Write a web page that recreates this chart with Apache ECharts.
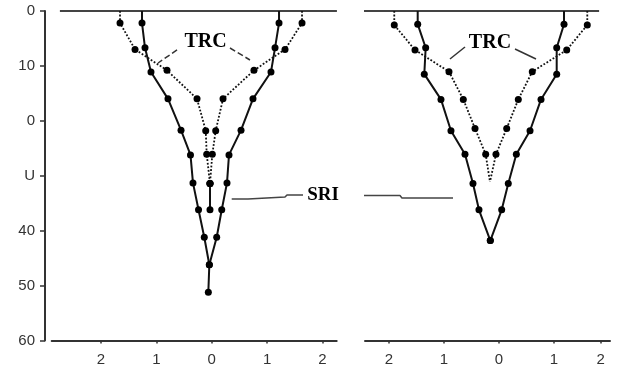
<!DOCTYPE html>
<html>
<head>
<meta charset="utf-8">
<script src="https://cdn.jsdelivr.net/npm/echarts@6/dist/echarts.min.js"></script>
<style>html,body{margin:0;padding:0;background:#fff}#c{width:644px;height:374px}</style>
</head>
<body>
<div id="c"></div>
<script>
// ---- tick labels ----
const yTickValues = [0, 10, 20, 30, 40, 50, 60];
const yTickLabels = ["0", "10", "0", "U", "40", "50", "60"];
const xTickValuesA = [-2, -1, 0, 1, 2];
const xTickValuesB = [-2, -1, 0, 1, 1.85];
const xTickLabels = ["2", "1", "0", "1", "2"];

// ---- left panel (A) ----
const depthSriLeftA = [0, 2.2, 6.7, 11.1, 16, 21.7, 26.2, 31.3, 36.2, 41.2, 46.2, 51.2];
const sriLeftA = [-1.258, -1.258, -1.204, -1.096, -0.789, -0.554, -0.383, -0.338, -0.238, -0.134, -0.043, -0.061];
const depthSriRightA = [0, 2.2, 6.7, 11.1, 16, 21.7, 26.2, 31.3, 36.2, 41.2, 46.2];
const sriRightA = [1.215, 1.215, 1.143, 1.070, 0.745, 0.529, 0.312, 0.276, 0.181, 0.090, -0.043];
const depthTrcA = [0, 2.2, 7.0, 10.8, 16, 21.8, 26.1, 31.4];
const trcLeftA = [-1.655, -1.655, -1.384, -0.807, -0.265, -0.108, -0.090, -0.031];
const trcRightA = [1.630, 1.630, 1.323, 0.763, 0.204, 0.072, 0.011, -0.031];
const depthCenterA = [31.4, 36.2];
const centerA = [-0.031, -0.031];

// ---- right panel (B) ----
const depthSriB = [0, 2.4, 6.7, 11.5, 16.1, 21.8, 26.1, 31.4, 36.2, 41.8];
const sriLeftB = [-1.478, -1.478, -1.333, -1.358, -1.055, -0.873, -0.618, -0.473, -0.364, -0.158];
const sriRightB = [1.182, 1.182, 1.049, 1.049, 0.764, 0.564, 0.315, 0.169, 0.049, -0.158];
const depthTrcB = [0, 2.55, 7.1, 11.05, 16.1, 21.4, 26.1, 31.1];
const trcLeftB = [-1.904, -1.904, -1.527, -0.909, -0.649, -0.436, -0.242, -0.164];
const trcRightB = [1.605, 1.605, 1.231, 0.605, 0.351, 0.140, -0.055, -0.164];

// ---- surface lines & annotations (data units) ----
const surfaceA = [[-2.74, 0], [2.26, 0]];
const surfaceB = [[-2.49, 0], [1.82, 0]];
const trcTextA = [-0.112, 5.64];
const trcLeaderA1 = [[-0.626, 7.10], [-0.969, 9.47]];
const trcLeaderA2 = [[0.330, 6.74], [0.691, 8.92]];
const trcTextB = [-0.164, 5.83];
const trcLeaderB1 = [[-0.618, 6.56], [-0.891, 8.74]];
const trcLeaderB2 = [[0.291, 6.92], [0.673, 8.74]];
const sriText = [2.009, 33.5];
const sriLeaderA = [[0.361, 34.23], [0.655, 34.23], [0.691, 33.87], [1.323, 33.87], [1.359, 33.5], [1.648, 33.5]];
const sriLeaderB = [[-2.745, 33.6], [-1.8, 33.6], [-1.764, 34.05], [-0.836, 34.05]];

function pts(xs, ds, noMark) {
  return xs.map((x, i) => ({ value: [x, ds[i]], symbol: (ds[i] === 0 || (noMark || []).includes(i)) ? 'none' : 'circle' }));
}
function profile(name, xs, ds, grid, dotted, noMark) {
  return {
    name: name, type: 'line', xAxisIndex: grid, yAxisIndex: grid,
    data: pts(xs, ds, noMark), showSymbol: true, symbolSize: 7, clip: false,
    itemStyle: { color: '#000' },
    lineStyle: { color: '#111', width: dotted ? 1.8 : 2, type: dotted ? 'dotted' : 'solid' },
    animation: false, z: 3
  };
}
function guide(data, grid, color, width, type) {
  return {
    type: 'line', xAxisIndex: grid, yAxisIndex: grid, data: data, symbol: 'none', clip: false,
    lineStyle: { color: color, width: width, type: type || 'solid' }, animation: false, silent: true, z: 2
  };
}
function xAxis(grid, min, max, ticks) {
  return {
    type: 'value', gridIndex: grid, min: min, max: max, splitLine: { show: false },
    axisLine: { show: true, onZero: false, lineStyle: { color: '#333', width: 2 } },
    axisTick: { show: true, length: 3, customValues: ticks, lineStyle: { color: '#333', width: 1.5 } },
    axisLabel: {
      customValues: ticks, margin: 12, fontFamily: 'Liberation Sans', fontSize: 15, color: '#333',
      formatter: v => { const i = ticks.findIndex(t => Math.abs(t - v) < 1e-6); return i >= 0 ? xTickLabels[i] : ''; }
    }
  };
}

const chart = echarts.init(document.getElementById('c'));
chart.setOption({
  backgroundColor: '#fff',
  animation: false,
  grid: [
    { left: 51.7, top: 11, width: 285, height: 329.5 },
    { left: 365, top: 11, width: 245, height: 329.5 }
  ],
  xAxis: [xAxis(0, -2.888, 2.256, xTickValuesA), xAxis(1, -2.436, 2.018, xTickValuesB)],
  yAxis: [
    {
      type: 'value', gridIndex: 0, inverse: true, min: 0, max: 60, interval: 10, offset: 6.7,
      splitLine: { show: false },
      axisLine: { show: true, onZero: false, lineStyle: { color: '#333', width: 2 } },
      axisTick: { show: true, length: 5, lineStyle: { color: '#333', width: 1.5 } },
      axisLabel: {
        margin: 10, fontFamily: 'Liberation Sans', fontSize: 15, color: '#333',
        formatter: v => { const i = yTickValues.indexOf(v); return i >= 0 ? yTickLabels[i] : ''; }
      }
    },
    { type: 'value', gridIndex: 1, inverse: true, min: 0, max: 60, show: false }
  ],
  series: [
    guide(surfaceA, 0, '#444', 2),
    guide(surfaceB, 1, '#444', 2),
    profile('SRI A left', sriLeftA, depthSriLeftA, 0, false),
    profile('SRI A right', sriRightA, depthSriRightA, 0, false),
    profile('TRC A left', trcLeftA, depthTrcA, 0, true),
    profile('TRC A right', trcRightA, depthTrcA, 0, true),
    profile('A center', centerA, depthCenterA, 0, false),
    profile('SRI B left', sriLeftB, depthSriB, 1, false),
    profile('SRI B right', sriRightB, depthSriB, 1, false),
    profile('TRC B left', trcLeftB, depthTrcB, 1, true, [7]),
    profile('TRC B right', trcRightB, depthTrcB, 1, true, [7]),
    guide(trcLeaderA1, 0, '#333', 1.5, 'dashed'),
    guide(trcLeaderA2, 0, '#333', 1.5, 'dashed'),
    guide(trcLeaderB1, 1, '#333', 1.5),
    guide(trcLeaderB2, 1, '#333', 1.5),
    guide(sriLeaderA, 0, '#444', 1.5),
    guide(sriLeaderB, 1, '#444', 1.5)
  ]
});

// annotation texts placed through the axes' own scales
const notes = [
  { grid: 0, pos: trcTextA, text: 'TRC', size: 20 },
  { grid: 1, pos: trcTextB, text: 'TRC', size: 20 },
  { grid: 0, pos: sriText, text: 'SRI', size: 19 }
];
chart.setOption({
  graphic: notes.map(n => {
    const p = chart.convertToPixel({ gridIndex: n.grid }, n.pos);
    return {
      type: 'text', x: p[0], y: p[1], z: 10, silent: true,
      style: {
        text: n.text, fill: '#000', font: 'bold ' + n.size + 'px "Liberation Serif"',
        textAlign: 'center', textVerticalAlign: 'middle'
      }
    };
  })
});
</script>
</body>
</html>
